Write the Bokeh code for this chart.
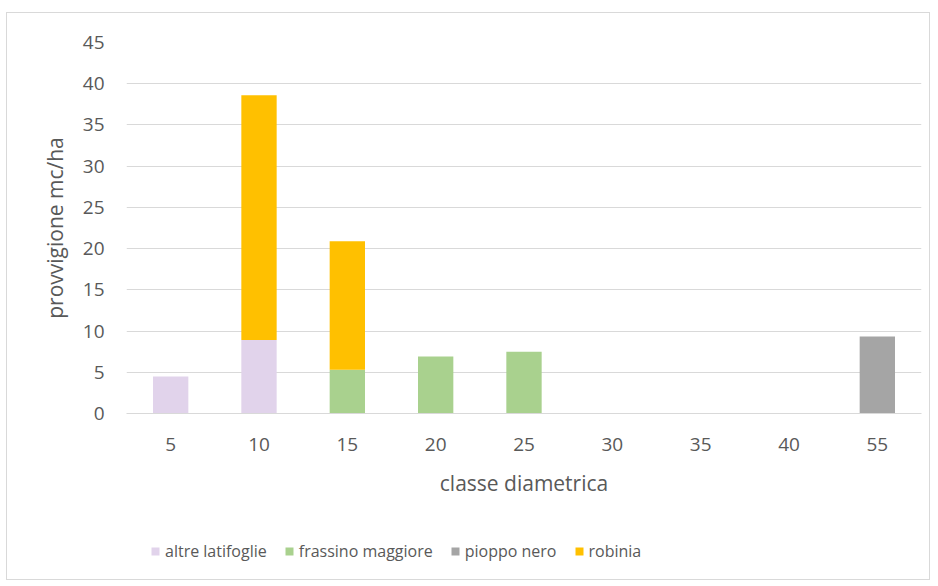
from bokeh.plotting import figure
from bokeh.layouts import column
from bokeh.models import ColumnDataSource, Legend, LegendItem, FactorRange
from bokeh.embed import file_html
from bokeh.resources import INLINE

# Diameter classes and standing volume (mc/ha) per species
classes = ["5", "10", "15", "20", "25", "30", "35", "40", "55"]
altre_latifoglie = [4.5, 8.9, 0, 0, 0, 0, 0, 0, 0]
frassino_maggiore = [0, 0, 5.3, 6.9, 7.5, 0, 0, 0, 0]
pioppo_nero = [0, 0, 0, 0, 0, 0, 0, 0, 9.35]
robinia = [0, 29.7, 15.6, 0, 0, 0, 0, 0, 0]

species = ["altre latifoglie", "frassino maggiore", "pioppo nero", "robinia"]
colors = ["#E1D3EB", "#A9D18E", "#A5A5A5", "#FFC000"]
y_ticks = [0, 5, 10, 15, 20, 25, 30, 35, 40, 45]

source = ColumnDataSource(dict(
    classe=classes,
    a=altre_latifoglie,
    f=frassino_maggiore,
    p=pioppo_nero,
    r=robinia,
))

FONT = "Open Sans"
TEXT = "#595959"
GRID = "#D9D9D9"

# Main stacked-bar chart
p = figure(
    x_range=FactorRange(*classes, range_padding=0),
    y_range=(0, 45),
    width=922, height=500,
    output_backend="svg", toolbar_location=None,
    min_border_left=119, min_border_right=8,
    min_border_top=29, min_border_bottom=100,
    outline_line_color=None,
)

p.vbar_stack(
    ["a", "f", "p", "r"], x="classe", width=0.4, source=source,
    color=colors, line_color=None,
)

p.yaxis.ticker = y_ticks
p.yaxis.axis_line_color = None
p.yaxis.major_tick_line_color = None
p.yaxis.minor_tick_line_color = None
p.yaxis.major_tick_out = 0
p.yaxis.major_label_standoff = 22
p.yaxis.axis_label = "provvigione mc/ha"
p.yaxis.axis_label_standoff = 11

p.xaxis.axis_line_color = GRID
p.xaxis.major_tick_line_color = None
p.xaxis.minor_tick_line_color = None
p.xaxis.major_tick_out = 0
p.xaxis.major_label_standoff = 24
p.xaxis.axis_label = "classe diametrica"
p.xaxis.axis_label_standoff = 15

for ax in (p.xaxis, p.yaxis):
    ax.major_label_text_font = FONT
    ax.major_label_text_font_size = "19px"
    ax.major_label_text_color = TEXT
    ax.axis_label_text_font = FONT
    ax.axis_label_text_font_size = "21px"
    ax.axis_label_text_color = TEXT
    ax.axis_label_text_font_style = "normal"

p.xgrid.grid_line_color = None
p.ygrid.grid_line_color = GRID
p.ygrid.grid_line_width = 1

# Legend strip underneath the chart; the swatch quads sit outside the
# visible range so only their legend glyphs show
lg = figure(
    width=922, height=66,
    x_range=(0, 1), y_range=(0, 1),
    output_backend="svg", toolbar_location=None,
    min_border=0, outline_line_color=None,
)
lg.axis.visible = False
lg.grid.visible = False
swatches = [
    lg.quad(left=[5], right=[6], top=[6], bottom=[5], color=c, line_color=None)
    for c in colors
]
legend = Legend(
    items=[LegendItem(label=s, renderers=[r]) for s, r in zip(species, swatches)],
    orientation="horizontal",
    location=(24, 17),
    label_text_font=FONT, label_text_font_size="16px", label_text_color=TEXT,
    glyph_width=10, glyph_height=10, label_standoff=5, spacing=17,
    padding=0, margin=0,
    border_line_color=None, background_fill_alpha=0,
)
lg.add_layout(legend, "center")

layout = column(
    p, lg,
    spacing=0,
    margin=(12, 0, 0, 6),
    styles={"border": f"1px solid {GRID}"},
)

open("out.html", "w").write(file_html(layout, INLINE))
